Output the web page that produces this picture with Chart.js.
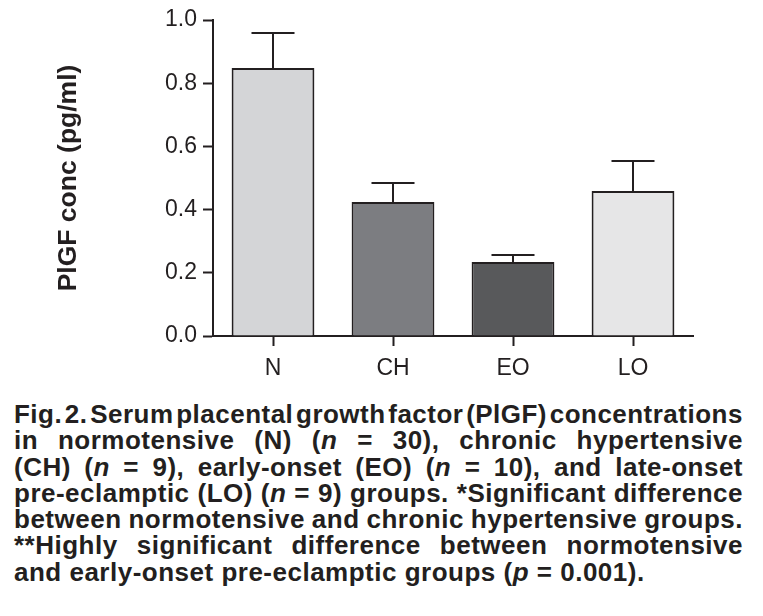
<!DOCTYPE html>
<html>
<head>
<meta charset="utf-8">
<script src="https://cdn.jsdelivr.net/npm/chart.js@4"></script>
<style>
  html, body { margin: 0; padding: 0; background: #fff; }
  body { width: 763px; height: 616px; position: relative; overflow: hidden; }
  #wrap { position: absolute; left: 0; top: 0; width: 763px; height: 390px; }
  #caption {
    position: absolute; left: 14px; top: 401px; width: 729px;
    font-family: "Liberation Sans", Arial, sans-serif; font-weight: bold;
    font-size: 26px; letter-spacing: 0.5px; line-height: 26.3px; color: #231f20;
  }
  #caption .ln { white-space: nowrap; text-align: justify; text-align-last: justify; transform-origin: left center; }
  #caption .ln.last { text-align-last: left; }
</style>
</head>
<body>
<div id="wrap"><canvas id="pigf-chart"></canvas></div>
<div id="caption">
  <div class="ln">Fig. 2. Serum placental growth factor (PlGF) concentrations</div>
  <div class="ln">in normotensive (N) (<i>n</i> = 30), chronic hypertensive</div>
  <div class="ln">(CH) (<i>n</i> = 9), early-onset (EO) (<i>n</i> = 10), and late-onset</div>
  <div class="ln">pre-eclamptic (LO) (<i>n</i> = 9) groups. *Significant difference</div>
  <div class="ln">between normotensive and chronic hypertensive groups.</div>
  <div class="ln">**Highly significant difference between normotensive</div>
  <div class="ln last">and early-onset pre-eclamptic groups (<i>p</i> = 0.001).</div>
</div>
<script>
// data
const groups = ["N", "CH", "EO", "LO"];
const meanConc = [0.848, 0.424, 0.234, 0.459];
const semConc = [0.111, 0.060, 0.022, 0.095];
const yTicks = [0.0, 0.2, 0.4, 0.6, 0.8, 1.0];

const ink = "#231f20";
const barColors = ["#d4d5d7", "#7c7d81", "#58595b", "#e6e6e7"];

// only the upper half of the error bar, with a cap
const errorBars = {
  id: "errorBars",
  afterDatasetsDraw(chart) {
    const ctx = chart.ctx;
    const y = chart.scales.y;
    const meta = chart.getDatasetMeta(0);
    ctx.save();
    ctx.strokeStyle = ink;
    ctx.lineWidth = 2;
    meta.data.forEach((bar, i) => {
      const y0 = y.getPixelForValue(meanConc[i]);
      const y1 = y.getPixelForValue(meanConc[i] + semConc[i]);
      ctx.beginPath();
      ctx.moveTo(bar.x, y0);
      ctx.lineTo(bar.x, y1);
      ctx.moveTo(bar.x - 21.5, y1);
      ctx.lineTo(bar.x + 21.5, y1);
      ctx.stroke();
    });
    ctx.restore();
  }
};

new Chart(document.getElementById("pigf-chart"), {
  type: "bar",
  data: {
    labels: groups,
    datasets: [{
      data: meanConc,
      backgroundColor: barColors,
      borderColor: ink,
      borderWidth: 2,
      categoryPercentage: 1,
      barPercentage: 0.69
    }]
  },
  options: {
    responsive: true,
    maintainAspectRatio: false,
    animation: false,
    layout: { padding: { left: 0, right: 70, top: 20, bottom: 0 } },
    plugins: { legend: { display: false }, tooltip: { enabled: false } },
    scales: {
      x: {
        afterFit: s => { s.height = 54; },
        grid: { display: true, drawOnChartArea: false, drawTicks: true, tickLength: 10, tickWidth: 2, tickColor: ink, offset: false },
        border: { display: true, color: ink, width: 2 },
        ticks: { color: ink, padding: 9, font: { family: "Liberation Sans", size: 23 } }
      },
      y: {
        min: 0, max: 1,
        afterFit: s => { s.width = 213; },
        afterBuildTicks: s => { s.ticks = yTicks.map(v => ({ value: v })); },
        grid: { display: true, drawOnChartArea: false, drawTicks: true, tickLength: 10, tickWidth: 2, tickColor: ink },
        border: { display: true, color: ink, width: 2 },
        ticks: { color: ink, padding: 6, font: { family: "Liberation Sans", size: 23 }, callback: v => v.toFixed(1) },
        title: {
          display: true, text: "PlGF conc (pg/ml)", color: ink,
          font: { family: "Liberation Sans", size: 26.5, weight: "bold" },
          padding: { top: 53, bottom: 0 }
        }
      }
    }
  },
  plugins: [errorBars]
});

// squeeze caption lines that are wider than the column: first the spaces, then the glyphs
document.querySelectorAll("#caption .ln").forEach(ln => {
  const w = ln.clientWidth;
  let over = ln.scrollWidth - w;
  if (over > 0) {
    const spaces = (ln.textContent.match(/ /g) || []).length;
    const ws = Math.max(-5, -over / spaces);
    ln.style.wordSpacing = ws + "px";
    over = ln.scrollWidth - w;
    if (over > 0) ln.style.transform = "scaleX(" + (w / ln.scrollWidth) + ")";
  }
});
</script>
</body>
</html>
